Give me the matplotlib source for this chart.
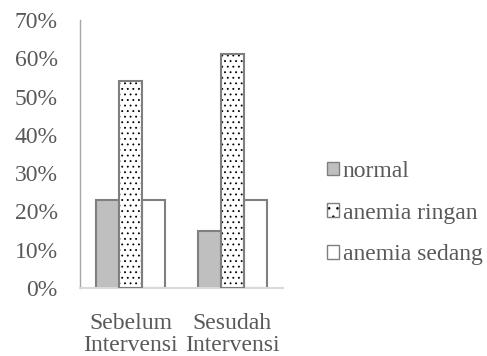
import matplotlib
matplotlib.use("Agg")
import matplotlib.pyplot as plt
import numpy as np
from matplotlib.patches import Patch
from matplotlib.legend_handler import HandlerTuple

categories = ["Sebelum\nIntervensi", "Sesudah\nIntervensi"]
series_names = ["normal", "anemia ringan", "anemia sedang"]
normal = [23, 15]
anemia_ringan = [54, 61]
anemia_sedang = [23, 23]
yticks = [0, 10, 20, 30, 40, 50, 60, 70]

plt.rcParams['font.family'] = ['Liberation Serif', 'DejaVu Serif']
plt.rcParams['hatch.linewidth'] = 0.6
txt = '#595959'
edge = '#7f7f7f'

fig = plt.figure(figsize=(4.87, 3.56), dpi=100)
ax = fig.add_axes([80/487, 1-288/356, 203/487, 268/356])

x = np.arange(len(categories))
w = 0.227
ax.bar(x - w, normal, w, color='#bfbfbf', edgecolor=edge, linewidth=1.5, zorder=2)
ax.bar(x, anemia_ringan, w, color='white', edgecolor='black', hatch='...', linewidth=0, zorder=2)
ax.bar(x, anemia_ringan, w, color='none', edgecolor=edge, linewidth=1.5, zorder=3)
ax.bar(x + w, anemia_sedang, w, color='white', edgecolor=edge, linewidth=1.5, zorder=2)

ax.set_xlim(-0.5, 1.5)
ax.set_ylim(0, 70)
ax.set_yticks(yticks)
ax.set_yticklabels([f"{t}%" for t in yticks], color=txt, fontsize=17)
ax.set_xticks(x)
ax.set_xticklabels(categories, color=txt, fontsize=17, linespacing=1.05)
ax.tick_params(length=0)
ax.tick_params(axis='x', pad=18)
ax.tick_params(axis='y', pad=16)
for s in ['top', 'right']:
    ax.spines[s].set_visible(False)
ax.spines['left'].set_color('#a6a6a6')
ax.spines['left'].set_linewidth(1.0)
ax.spines['bottom'].set_color('#d9d9d9')
ax.spines['bottom'].set_linewidth(1.5)

h1 = Patch(facecolor='#bfbfbf', edgecolor=edge, linewidth=1.0)
h2a = Patch(facecolor='white', edgecolor='black', hatch='..', linewidth=0)
h2b = Patch(facecolor='none', edgecolor=edge, linewidth=1.0)
h3 = Patch(facecolor='white', edgecolor=edge, linewidth=1.0)
leg = fig.legend([h1, (h2a, h2b), h3], series_names,
                 handler_map={tuple: HandlerTuple(ndivide=1, pad=0)},
                 loc='center left', bbox_to_anchor=(318/487, 1-213/356),
                 frameon=False, fontsize=17, handlelength=0.5, handleheight=0.5,
                 handletextpad=0.15, labelspacing=0.88, borderaxespad=0)
for t in leg.get_texts():
    t.set_color(txt)

fig.savefig("out.png", dpi=100)
